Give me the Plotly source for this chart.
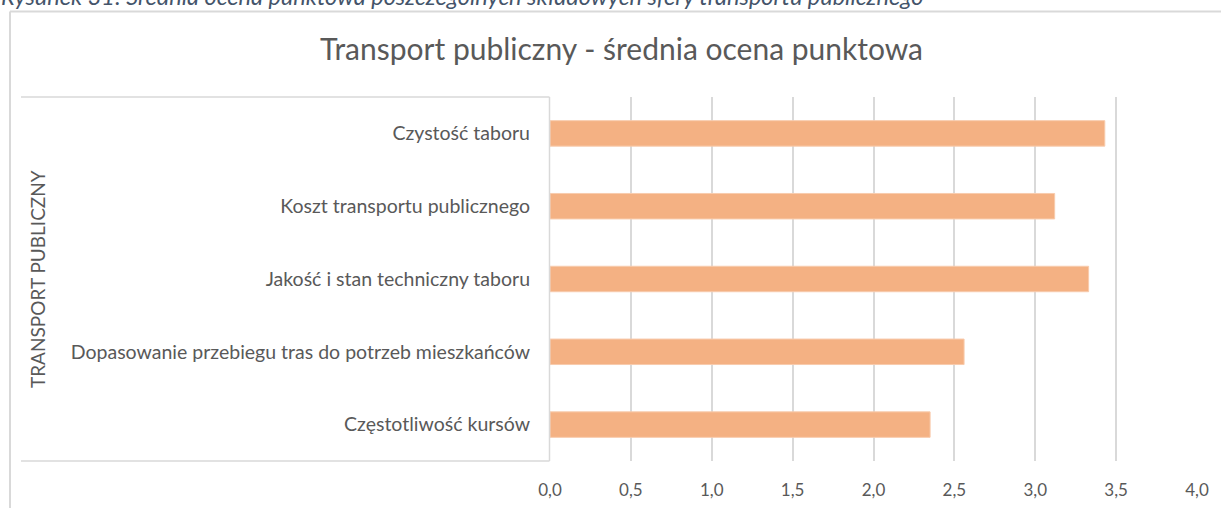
import plotly.graph_objects as go

categories = [
    "Częstotliwość kursów",
    "Dopasowanie przebiegu tras do potrzeb mieszkańców",
    "Jakość i stan techniczny taboru",
    "Koszt transportu publicznego",
    "Czystość taboru",
]
values = [2.35, 2.56, 3.33, 3.12, 3.43]
x_ticks = [0, 0.5, 1.0, 1.5, 2.0, 2.5, 3.0, 3.5, 4.0]

title_text = "Transport publiczny - średnia ocena punktowa"
group_label = "TRANSPORT PUBLICZNY"
caption = "Rysunek 31: Średnia ocena punktowa poszczególnych składowych sfery transportu publicznego"

W, H = 1221, 508
ML, MR, MT, MB = 550, 24, 97, 47
PW, PH = W - ML - MR, H - MT - MB

def px(x):
    return (x - ML) / PW

def py(y):
    return 1 - (y - MT) / PH

FONT = "Lato"
GRAY = "#595959"
LINE = "#d9d9d9"

fig = go.Figure(
    go.Bar(
        x=values,
        y=categories,
        orientation="h",
        width=0.35,
        marker=dict(color="#F4B183", line=dict(color="#F8CBAD", width=1)),
        hoverinfo="x+y",
    )
)

shapes = [
    # outer chart border (left + top visible)
    dict(type="line", xref="paper", yref="paper", x0=px(10), x1=px(W + 20), y0=py(11.5), y1=py(11.5),
         line=dict(color=LINE, width=2)),
    dict(type="line", xref="paper", yref="paper", x0=px(10), x1=px(10), y0=py(11.5), y1=py(H + 20),
         line=dict(color=LINE, width=2)),
    # category box
    dict(type="line", xref="paper", yref="paper", x0=px(21), x1=px(549.5), y0=1, y1=1,
         line=dict(color=LINE, width=1.5)),
    dict(type="line", xref="paper", yref="paper", x0=px(21), x1=px(549.5), y0=0, y1=0,
         line=dict(color=LINE, width=1.5)),
    dict(type="line", xref="paper", yref="paper", x0=px(549.5), x1=px(549.5), y0=0, y1=1,
         line=dict(color=LINE, width=1.5)),
]

annotations = [
    dict(text=title_text, xref="paper", yref="paper", x=px(621), y=py(48), showarrow=False,
         xanchor="center", yanchor="middle", font=dict(family=FONT, size=30, color=GRAY)),
    dict(text=group_label, xref="paper", yref="paper", x=px(37), y=0.5, showarrow=False,
         textangle=-90, xanchor="center", yanchor="middle", font=dict(family=FONT, size=19, color=GRAY)),
    dict(text="<i>" + caption + "</i>", xref="paper", yref="paper", x=px(-1), y=py(-4), showarrow=False,
         xanchor="left", yanchor="middle", font=dict(family=FONT, size=23.5, color="#44546A")),
]

fig.update_layout(
    width=W, height=H,
    margin=dict(l=ML, r=MR, t=MT, b=MB, pad=0, autoexpand=False),
    paper_bgcolor="white", plot_bgcolor="white",
    separators=", ",
    showlegend=False,
    shapes=shapes,
    annotations=annotations,
    xaxis=dict(range=[0, 4], tickvals=x_ticks, tickformat=".1f", showgrid=True, gridcolor=LINE, gridwidth=2,
               zeroline=False, showline=False, ticks="", ticklabelstandoff=17, automargin=False,
               tickfont=dict(family=FONT, size=17, color=GRAY), fixedrange=True),
    yaxis=dict(categoryorder="array", categoryarray=categories, showgrid=False, zeroline=False,
               showline=False, ticks="", ticklabelstandoff=19, automargin=False,
               tickfont=dict(family=FONT, size=19.5, color=GRAY), fixedrange=True),
)

fig.write_html(
    "out.html",
    config={"displayModeBar": False},
    post_script="document.body.style.margin='0';document.body.style.overflow='hidden';",
)
